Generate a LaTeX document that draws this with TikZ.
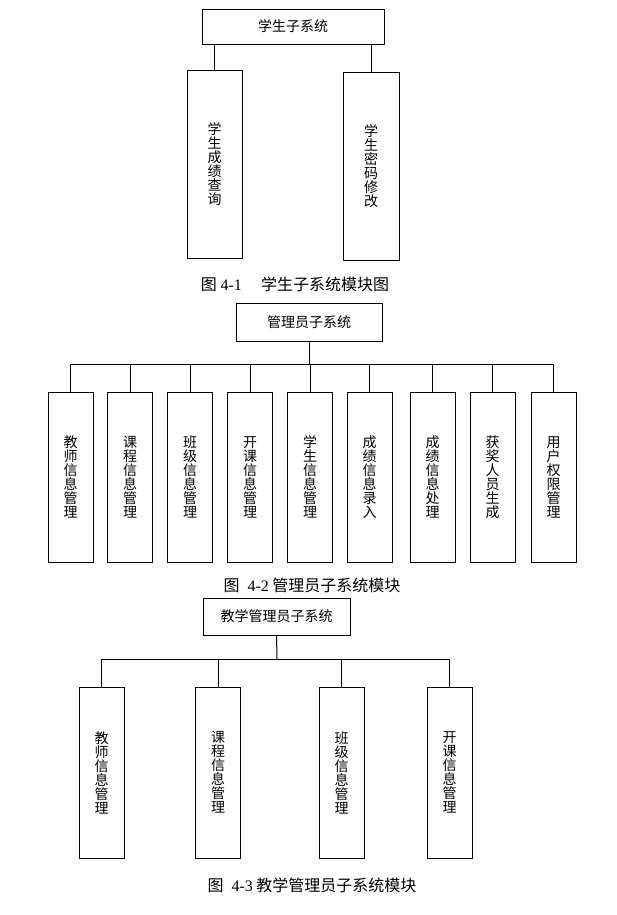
\documentclass[tikz,border=0pt]{standalone}
\usepackage{fontspec}
\setmainfont{Liberation Serif}
\newfontfamily\cjk{Noto Sans CJK SC}
\begin{document}
\begin{tikzpicture}[x=0.75pt,y=-0.75pt,
  box/.style={draw, line width=0.75pt, inner sep=0pt, align=center,
    font=\cjk\fontsize{10.5}{10.5}\selectfont},
  topbox/.style={box, font=\cjk\fontsize{10.5}{12}\selectfont},
  wire/.style={line width=0.75pt},
  captext/.style={font=\cjk\fontsize{12}{14}\selectfont, inner sep=0pt}]
\useasboundingbox[fill=white] (0,0) rectangle (617,915);

% ---------- Figure 4-1 ----------
\node[topbox, minimum width=182*0.75pt, minimum height=35*0.75pt] (t1) at (293,26.5) {学生子系统};
\node[box, minimum width=55*0.75pt, minimum height=188*0.75pt] (s1) at (214.5,164) {学\\生\\成\\绩\\查\\询};
\node[box, minimum width=56*0.75pt, minimum height=188*0.75pt] (s2) at (371,166) {学\\生\\密\\码\\修\\改};
\draw[wire] (s1.north) -- (s1.north |- t1.south);
\draw[wire] (s2.north) -- (s2.north |- t1.south);
\node[captext] (c1) at (295,284) {图 {\rmfamily 4-1}\hspace{1.2em}学生子系统模块图};

% ---------- Figure 4-2 ----------
\node[topbox, minimum width=146*0.75pt, minimum height=38*0.75pt] (t2) at (309,322) {管理员子系统};
\coordinate (bus2) at (309,364);
\foreach \n/\x/\t in {1/70.5/{教\\师\\信\\息\\管\\理},
                      2/130/{课\\程\\信\\息\\管\\理},
                      3/190/{班\\级\\信\\息\\管\\理},
                      4/250/{开\\课\\信\\息\\管\\理},
                      5/310/{学\\生\\信\\息\\管\\理},
                      6/369.5/{成\\绩\\信\\息\\录\\入},
                      7/432.5/{成\\绩\\信\\息\\处\\理},
                      8/492.5/{获\\奖\\人\\员\\生\\成},
                      9/553.5/{用\\户\\权\\限\\管\\理}}{
  \node[box, minimum width=45*0.75pt, minimum height=170*0.75pt] (m\n) at (\x,477) {\t};
  \draw[wire] (m\n.north) |- (bus2);
}
\draw[wire] (t2.south) -- (bus2);
\node[captext] (c2) at (312,585) {图\hspace{0.5em}{\rmfamily 4-2} 管理员子系统模块};

% ---------- Figure 4-3 ----------
\node[topbox, minimum width=147*0.75pt, minimum height=37*0.75pt] (t3) at (276.5,616.5) {教学管理员子系统};
\coordinate (bus3) at (277,659);
\foreach \n/\x/\t in {1/101.5/{教\\师\\信\\息\\管\\理},
                      2/218/{课\\程\\信\\息\\管\\理},
                      3/341.5/{班\\级\\信\\息\\管\\理},
                      4/449.5/{开\\课\\信\\息\\管\\理}}{
  \node[box, minimum width=45*0.75pt, minimum height=171*0.75pt] (e\n) at (\x,772.5) {\t};
  \draw[wire] (e\n.north) |- (bus3);
}
\draw[wire] (t3.south) -- (bus3);
\node[captext] (c3) at (312,885) {图\hspace{0.5em}{\rmfamily 4-3} 教学管理员子系统模块};
\end{tikzpicture}
\end{document}
